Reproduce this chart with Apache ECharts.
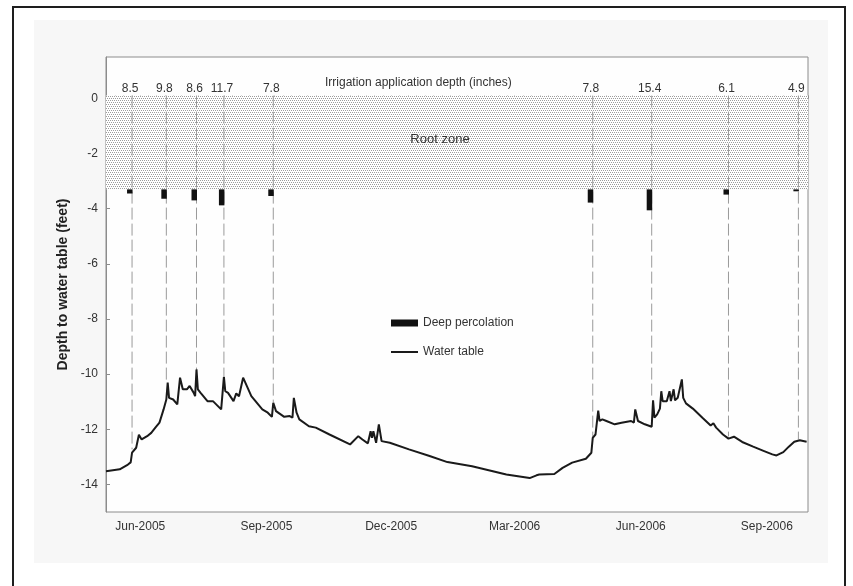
<!DOCTYPE html>
<html><head><meta charset="utf-8">
<script src="https://cdn.jsdelivr.net/npm/echarts@6/dist/echarts.min.js"></script>
<style>
html,body{margin:0;padding:0;background:#fff;}
#frame{position:absolute;left:12px;top:6px;width:834px;height:600px;border:2.5px solid #1e1e1e;box-sizing:border-box;}
#panel{position:absolute;left:34px;top:20px;width:794px;height:543px;background:#f7f7f7;}
#c{position:absolute;left:0;top:0;width:853px;height:586px;}
</style>
</head><body>
<div id="frame"></div><div id="panel"></div>
<div id="c"></div>
<script>
// ---- data ----
const xMin = '2005-05-07';
const xMax = '2006-10-01';
const xLabelDates = ['2005-06-01','2005-09-01','2005-12-01','2006-03-01','2006-06-01','2006-09-01'];
const yTicks = [-14,-12,-10,-8,-6,-4,-2,0];
const waterTable = [
['2005-05-07',-13.52],['2005-05-17',-13.45],['2005-05-23',-13.28],['2005-05-25',-13.2],['2005-05-26',-12.85],
['2005-05-29',-12.67],['2005-05-30',-12.6],['2005-05-31',-12.2],['2005-06-02',-12.37],['2005-06-06',-12.25],
['2005-06-09',-12.13],['2005-06-12',-11.94],['2005-06-15',-11.76],['2005-06-18',-11.28],['2005-06-20',-10.92],
['2005-06-21',-10.31],['2005-06-22',-10.86],['2005-06-25',-10.92],['2005-06-28',-11.1],['2005-06-30',-10.13],
['2005-07-02',-10.55],['2005-07-05',-10.55],['2005-07-07',-10.43],['2005-07-10',-10.68],['2005-07-11',-10.8],
['2005-07-12',-9.83],['2005-07-13',-10.55],['2005-07-15',-10.68],['2005-07-20',-10.98],['2005-07-24',-10.98],
['2005-07-30',-11.28],['2005-07-31',-11.3],['2005-08-01',-10.1],['2005-08-02',-10.62],['2005-08-04',-10.68],
['2005-08-08',-10.98],['2005-08-10',-10.7],['2005-08-12',-10.8],['2005-08-15',-10.13],['2005-08-16',-10.13],
['2005-08-21',-10.8],['2005-08-29',-11.28],['2005-09-02',-11.4],['2005-09-05',-11.55],['2005-09-06',-11.04],
['2005-09-08',-11.34],['2005-09-14',-11.55],['2005-09-18',-11.52],['2005-09-20',-11.58],['2005-09-21',-10.86],
['2005-09-23',-11.4],['2005-09-25',-11.64],['2005-10-02',-11.89],['2005-10-07',-11.94],['2005-10-17',-12.19],
['2005-11-01',-12.55],['2005-11-07',-12.25],['2005-11-10',-12.37],['2005-11-14',-12.51],['2005-11-16',-12.07],
['2005-11-17',-12.31],['2005-11-18',-12.07],['2005-11-20',-12.49],['2005-11-21',-12.51],['2005-11-22',-11.82],
['2005-11-24',-12.43],['2005-11-30',-12.49],['2005-12-14',-12.73],['2005-12-29',-12.97],['2006-01-11',-13.19],
['2006-01-29',-13.34],['2006-02-23',-13.64],['2006-03-12',-13.77],['2006-03-17',-13.67],['2006-03-19',-13.64],
['2006-03-30',-13.62],['2006-04-05',-13.4],['2006-04-12',-13.21],['2006-04-22',-13.07],['2006-04-26',-12.85],
['2006-04-27',-12.31],['2006-04-29',-12.19],['2006-05-01',-11.32],['2006-05-02',-11.7],['2006-05-04',-11.64],
['2006-05-07',-11.7],['2006-05-13',-11.82],['2006-05-18',-11.76],['2006-05-25',-11.7],['2006-05-27',-11.76],
['2006-05-28',-11.28],['2006-05-30',-11.7],['2006-06-04',-11.82],['2006-06-09',-11.91],['2006-06-10',-10.95],
['2006-06-11',-11.58],['2006-06-13',-11.46],['2006-06-15',-11.25],['2006-06-16',-10.62],['2006-06-17',-10.98],
['2006-06-20',-10.98],['2006-06-22',-10.62],['2006-06-23',-10.98],['2006-06-25',-10.55],['2006-06-26',-10.95],
['2006-06-28',-10.86],['2006-07-01',-10.19],['2006-07-02',-10.86],['2006-07-04',-11.06],['2006-07-09',-11.25],
['2006-07-16',-11.58],['2006-07-22',-11.86],['2006-07-24',-11.78],['2006-07-26',-11.94],['2006-07-31',-12.19],
['2006-08-04',-12.34],['2006-08-08',-12.27],['2006-08-14',-12.46],['2006-08-22',-12.63],['2006-08-30',-12.79],
['2006-09-05',-12.91],['2006-09-08',-12.95],['2006-09-13',-12.83],['2006-09-17',-12.63],['2006-09-21',-12.45],
['2006-09-25',-12.4],['2006-09-30',-12.45]
];
const irrigationDates = ['2005-05-26','2005-06-20','2005-07-12','2005-08-01','2005-09-06','2006-04-27','2006-06-09','2006-08-04','2006-09-24'];
const irrigationDepths = [8.5, 9.8, 8.6, 11.7, 7.8, 7.8, 15.4, 6.1, 4.9];
const dashLineEnds = [-12.73, -10.3, -9.9, -10.08, -11.03, -12.37, -10.92, -12.26, -12.37];
const rootZoneTop = 0.1;
const rootZoneBottom = -3.3;
const percolationBottoms = [-3.45, -3.64, -3.7, -3.88, -3.54, -3.78, -4.06, -3.49, -3.37];
const depthLabelLevel = 0.36;

// ---- helpers ----
const FONT = 'Liberation Sans, Arial, Helvetica, sans-serif';
const MONTHS = ['Jan','Feb','Mar','Apr','May','Jun','Jul','Aug','Sep','Oct','Nov','Dec'];
function ts(s){ const p = s.split('-').map(Number); return Date.UTC(p[0], p[1]-1, p[2]); }
// minor ticks: five divisions per month
const xTickValues = [];
for (let y = 2005, m = 4; y < 2006 || m <= 9; ) {
  const a = Date.UTC(y, m, 1), b = Date.UTC(m === 11 ? y + 1 : y, (m + 1) % 12, 1);
  for (let k = 0; k < 5; k++) { const v = a + (b - a) * k / 5; if (v >= ts(xMin) && v <= ts(xMax)) xTickValues.push(v); }
  m++; if (m > 11) { m = 0; y++; }
}

const pat = document.createElement('canvas'); pat.width = 4; pat.height = 4;
const pctx = pat.getContext('2d');
pctx.fillStyle = '#ffffff'; pctx.fillRect(0,0,4,4);
pctx.fillStyle = '#9c9c9c';
pctx.fillRect(0,0,1,1); pctx.fillRect(2,0,1,1); pctx.fillRect(1,2,1,1); pctx.fillRect(3,2,1,1);

const chart = echarts.init(document.getElementById('c'), null, {renderer:'canvas'});
chart.setOption({
  animation: false,
  backgroundColor: 'transparent',
  textStyle: {fontFamily: FONT},
  grid: {left: 106, top: 57, right: 45, bottom: 74, show: true, backgroundColor: '#fefefe', borderColor: '#8c8c8c', borderWidth: 1},
  xAxis: {
    type: 'value', min: ts(xMin), max: ts(xMax),
    axisLine: {show: true, lineStyle: {color: '#8c8c8c', width: 1}},
    axisTick: {show: true, inside: true, length: 3, lineStyle: {color: '#8c8c8c'}, customValues: xTickValues},
    axisLabel: {customValues: xLabelDates.map(ts), margin: 9, fontSize: 12, color: '#333', fontFamily: FONT,
      formatter: v => { const d = new Date(v); return MONTHS[d.getUTCMonth()] + '-' + d.getUTCFullYear(); }},
    splitLine: {show: false}
  },
  yAxis: {
    type: 'value', min: -15, max: 1.5,
    name: 'Depth to water table (feet)', nameLocation: 'middle', nameGap: 36, nameRotate: 90,
    nameTextStyle: {fontSize: 14, fontWeight: 'bold', color: '#222', fontFamily: FONT},
    axisLine: {show: true, lineStyle: {color: '#8c8c8c', width: 1}},
    axisTick: {show: true, inside: true, length: 4, lineStyle: {color: '#8c8c8c'}, customValues: yTicks},
    axisLabel: {customValues: yTicks, margin: 8, fontSize: 12, color: '#333', fontFamily: FONT},
    splitLine: {show: false}
  },
  legend: {
    orient: 'vertical', left: 386, top: 312, itemWidth: 27, itemHeight: 7, itemGap: 17,
    symbolKeepAspect: true,
    textStyle: {fontSize: 12, color: '#333', fontFamily: FONT},
    data: [
      {name: 'Deep percolation', icon: 'rect'},
      {name: 'Water table', icon: 'path://M0,0H27V2H0Z', itemStyle: {color: '#1a1a1a', borderWidth: 0}}
    ]
  },
  graphic: [
    {type: 'text', left: 325, top: 77, style: {text: 'Irrigation application depth (inches)', font: '12px ' + FONT, fill: '#333'}}
  ],
  series: [
    {
      name: 'Root zone', type: 'line', data: [], silent: true,
      markArea: {
        silent: true,
        itemStyle: {color: {image: pat, repeat: 'repeat'}, borderWidth: 0},
        label: {show: true, position: 'inside', offset: [-17, -3], color: '#333', fontSize: 13, fontFamily: FONT, formatter: 'Root zone'},
        data: [[{xAxis: ts(xMin), yAxis: rootZoneTop}, {xAxis: ts(xMax), yAxis: rootZoneBottom}]]
      }
    },
    {
      name: 'Irrigation', type: 'custom', silent: true, z: 3,
      encode: {x: 0, y: [1, 2]},
      data: irrigationDates.map((d, i) => [ts(d), rootZoneTop, dashLineEnds[i], irrigationDepths[i]]),
      renderItem: function (params, api) {
        const t = api.coord([api.value(0), api.value(1)]);
        const b = api.coord([api.value(0), api.value(2)]);
        const l = api.coord([api.value(0), depthLabelLevel]);
        return {type: 'group', children: [
          {type: 'line', shape: {x1: t[0], y1: t[1], x2: b[0], y2: b[1]}, style: {stroke: '#9a9a9a', lineWidth: 1, lineDash: [12, 4]}},
          {type: 'text', x: l[0] - 2, y: l[1], style: {text: String(api.value(3)), align: 'center', verticalAlign: 'middle', font: '12px ' + FONT, fill: '#333'}}
        ]};
      }
    },
    {
      name: 'Deep percolation', type: 'custom', z: 4,
      itemStyle: {color: '#111'},
      encode: {x: 0, y: [1, 2]},
      data: irrigationDates.map((d, i) => [ts(d), rootZoneBottom, percolationBottoms[i]]),
      renderItem: function (params, api) {
        const t = api.coord([api.value(0), api.value(1)]);
        const b = api.coord([api.value(0), api.value(2)]);
        return {type: 'rect', shape: {x: t[0] - 5, y: t[1], width: 5.5, height: b[1] - t[1]}, style: {fill: '#111'}};
      }
    },
    {
      name: 'Water table', type: 'line', z: 5,
      data: waterTable.map(p => [ts(p[0]), p[1]]),
      showSymbol: false, symbol: 'none',
      lineStyle: {color: '#1a1a1a', width: 2},
      itemStyle: {color: '#1a1a1a'}
    }
  ]
});
</script>
</body></html>
